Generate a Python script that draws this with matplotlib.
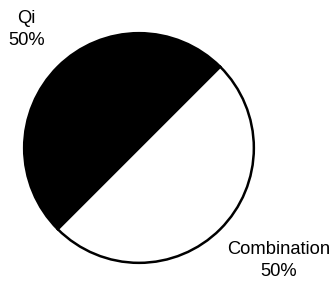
import matplotlib
matplotlib.use("Agg")
import matplotlib.pyplot as plt

labels = ["Qi", "Combination"]
shares = [50, 50]
colors = ["black", "white"]

plt.rcParams['font.family'] = ['Liberation Sans', 'DejaVu Sans']

fig = plt.figure(figsize=(3.34, 2.82), dpi=100)
ax = fig.add_axes([23 / 334, 18 / 282, 232 / 334, 232 / 282])

wedges, _ = ax.pie(shares, colors=colors, startangle=45, counterclock=True,
                   wedgeprops=dict(edgecolor="black", linewidth=1.8))
ax.set_xlim(-1.01, 1.01)
ax.set_ylim(-1.01, 1.01)
ax.set_aspect("equal")

label_pos = [(-0.98, 1.03), (1.22, -0.98)]
for lab, val, (x, y) in zip(labels, shares, label_pos):
    ax.text(x, y, "%s\n%d%%" % (lab, val), ha="center", va="center",
            multialignment="center", fontsize=13.2, linespacing=1.35,
            clip_on=False)

fig.savefig("out.png", dpi=100)
